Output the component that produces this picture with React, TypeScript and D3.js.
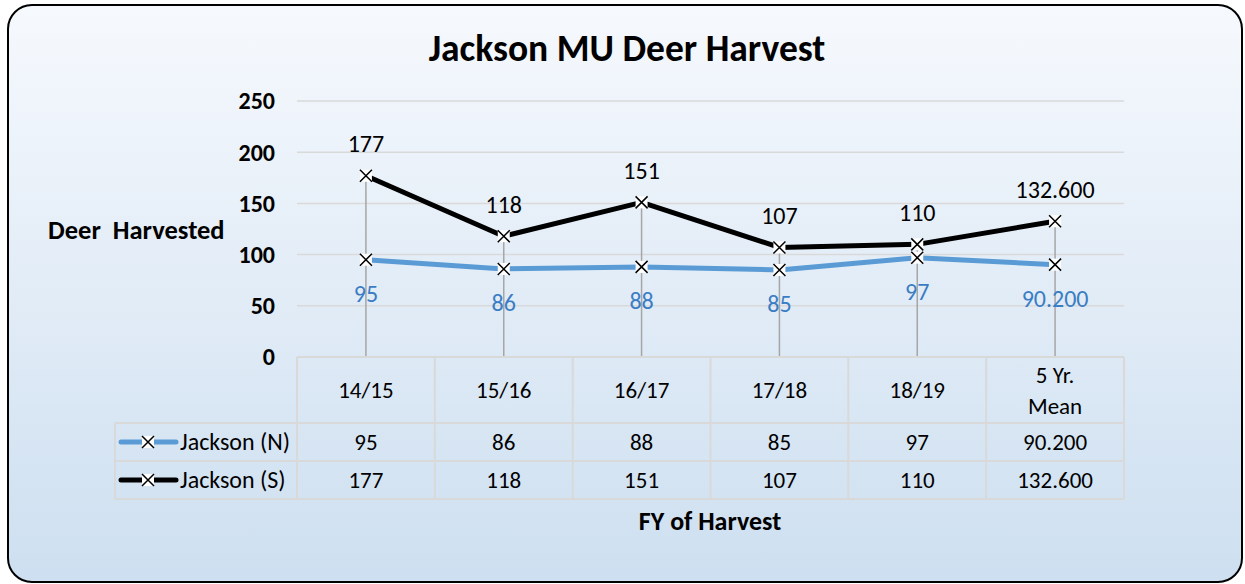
import React from "react"
import * as d3 from "d3"

const categories = ["14/15", "15/16", "16/17", "17/18", "18/19", "5 Yr. Mean"]
const northValues = [95, 86, 88, 85, 97, 90.2]
const southValues = [177, 118, 151, 107, 110, 132.6]
const northLabels = ["95", "86", "88", "85", "97", "90.200"]
const southLabels = ["177", "118", "151", "107", "110", "132.600"]
const yTicks = [0, 50, 100, 150, 200, 250]

const series = [
  { name: "Jackson (N)", values: northValues, labels: northLabels, colour: "#5b9bd5", labelColour: "#3b7dc4", dy: 34 },
  { name: "Jackson (S)", values: southValues, labels: southLabels, colour: "#000000", labelColour: "#000000", dy: -32 },
]

const font = "Carlito, Lato, 'Open Sans', sans-serif"

const Marker = ({ cx, cy }: { cx: number; cy: number }) => (
  <g>
    <rect x={cx - 6} y={cy - 6} width={12} height={12} fill="#fff" />
    <path d={`M${cx - 6},${cy - 6}L${cx + 6},${cy + 6}M${cx - 6},${cy + 6}L${cx + 6},${cy - 6}`} stroke="#000" strokeWidth={1.5} />
  </g>
)

const App = () => {
  const width = 1245
  const height = 584
  const plot = { left: 297, right: 1124, top: 101, bottom: 357 }
  const rowHeader = 423
  const rowN = 461
  const rowS = 499
  const legendLeft = 115

  const x = d3.scaleBand().domain(categories).range([plot.left, plot.right])
  const cx = (c: string) => (x(c) as number) + x.bandwidth() / 2
  const y = d3.scaleLinear().domain([0, 250]).range([plot.bottom, plot.top])
  const line = d3
    .line<number>()
    .x((d, i) => cx(categories[i]))
    .y(d => y(d))

  const gridColour = "#d9d9d9"
  const fs = 23

  return (
    <svg width={width} height={height} style={{ position: "absolute", left: 0, top: 0 }} fontFamily={font}>
      <defs>
        <linearGradient id="bg" x1="0" y1="0" x2="0" y2="1">
          <stop offset="0" stopColor="#f6f9fd" />
          <stop offset="1" stopColor="#cddff0" />
        </linearGradient>
      </defs>
      <rect x={8} y={5} width={1234} height={577} rx={24} fill="url(#bg)" stroke="#000" strokeWidth={2} />

      <text x={627} y={48} dy="0.35em" textAnchor="middle" fontSize={37.5} fontWeight="bold">
        Jackson MU Deer Harvest
      </text>

      {yTicks.map(t => (
        <g key={t}>
          {t > 0 && <line x1={plot.left} x2={plot.right} y1={y(t)} y2={y(t)} stroke={gridColour} strokeWidth={1.5} />}
          <text x={275} y={y(t)} dy="0.35em" textAnchor="end" fontSize={24} fontWeight="bold">
            {t}
          </text>
        </g>
      ))}

      <text x={48} y={230} dy="0.35em" fontSize={26.5} fontWeight="bold" style={{ whiteSpace: "pre" }}>
        Deer  Harvested
      </text>

      {categories.map((c, i) => (
        <line
          key={c}
          x1={cx(c)}
          x2={cx(c)}
          y1={y(Math.max(northValues[i], southValues[i]))}
          y2={plot.bottom}
          stroke="#a6a6a6"
          strokeWidth={1.5}
        />
      ))}

      {series.map(s => (
        <g key={s.name}>
          <path d={line(s.values) as string} fill="none" stroke={s.colour} strokeWidth={5} strokeLinejoin="round" />
          {s.values.map((v, i) => (
            <Marker key={i} cx={cx(categories[i])} cy={y(v)} />
          ))}
          {s.values.map((v, i) => (
            <text
              key={"l" + i}
              x={cx(categories[i])}
              y={y(v) + s.dy}
              dy="0.35em"
              textAnchor="middle"
              fontSize={fs + 1}
              fill={s.labelColour}
            >
              {s.labels[i]}
            </text>
          ))}
        </g>
      ))}

      {/* data table */}
      <g stroke={gridColour} strokeWidth={2}>
        <line x1={plot.left} x2={plot.right} y1={plot.bottom} y2={plot.bottom} />
        <line x1={legendLeft} x2={plot.right} y1={rowHeader} y2={rowHeader} />
        <line x1={legendLeft} x2={plot.right} y1={rowN} y2={rowN} />
        <line x1={legendLeft} x2={plot.right} y1={rowS} y2={rowS} />
        <line x1={legendLeft} x2={legendLeft} y1={rowHeader} y2={rowS} />
        {categories.map(c => (
          <line key={c} x1={x(c) as number} x2={x(c) as number} y1={plot.bottom} y2={rowS} />
        ))}
        <line x1={plot.right} x2={plot.right} y1={plot.bottom} y2={rowS} />
      </g>

      {categories.map(c => {
        const parts = c === "5 Yr. Mean" ? ["5 Yr.", "Mean"] : [c]
        const mid = (plot.bottom + rowHeader) / 2
        return parts.map((p, j) => (
          <text
            key={c + j}
            x={cx(c)}
            y={mid + (j - (parts.length - 1) / 2) * 31}
            dy="0.35em"
            textAnchor="middle"
            fontSize={fs}
          >
            {p}
          </text>
        ))
      })}

      {series.map((s, r) => {
        const mid = r === 0 ? (rowHeader + rowN) / 2 : (rowN + rowS) / 2
        return (
          <g key={s.name}>
            <line x1={121} x2={176} y1={mid} y2={mid} stroke={s.colour} strokeWidth={5} strokeLinecap="round" />
            <Marker cx={148} cy={mid} />
            <text x={180} y={mid} dy="0.35em" fontSize={fs + 1}>
              {s.name}
            </text>
            {s.labels.map((l, i) => (
              <text key={i} x={cx(categories[i])} y={mid} dy="0.35em" textAnchor="middle" fontSize={fs}>
                {l}
              </text>
            ))}
          </g>
        )
      })}

      <text x={710} y={521} dy="0.35em" textAnchor="middle" fontSize={26} fontWeight="bold">
        FY of Harvest
      </text>
    </svg>
  )
}

export default App
